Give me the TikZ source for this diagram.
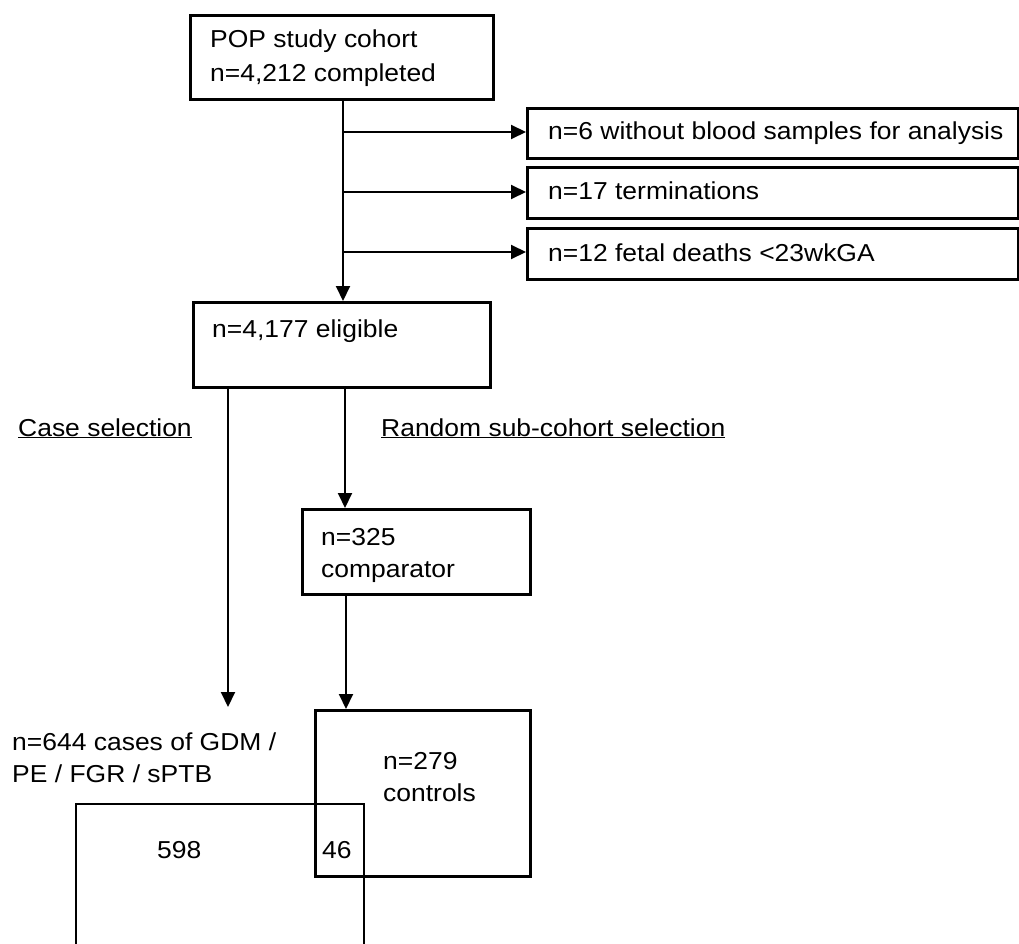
\documentclass[tikz,border=0pt]{standalone}
\usepackage{fontspec}
\setmainfont{Liberation Sans}[FakeStretch=1.08]
\usetikzlibrary{arrows.meta}
\begin{document}
\begin{tikzpicture}[x=1pt,y=-1pt,
  box/.style={draw=black, line width=2.6pt, rectangle, inner sep=0pt, anchor=north west},
  txt/.style={anchor=base west, inner sep=0pt, font=\fontsize{24.5}{32}\selectfont},
  conn/.style={line width=2pt, draw=black},
  arr/.style={conn, -{Triangle[length=15pt,width=14pt]}}]
\useasboundingbox (0,0) rectangle (1019,944);

% top box
\node[box, minimum width=303pt, minimum height=84pt] (top) at (189,14) {};
\node[txt] (toptxt1) at (210,48) {POP study cohort};
\node[txt] (toptxt2) at (210,82) {n=4,212 completed};

% side boxes
\node[box, minimum width=491pt, minimum height=50pt] (ex1) at (526,107) {};
\node[box, minimum width=491pt, minimum height=51pt] (ex2) at (526,166) {};
\node[box, minimum width=491pt, minimum height=51pt] (ex3) at (526,227) {};
\node[txt] (ex1t) at (548,140) {n=6 without blood samples for analysis};
\node[txt] (ex2t) at (548,200) {n=17 terminations};
\node[txt] (ex3t) at (548,261) {n=12 fetal deaths <23wkGA};

% eligible
\node[box, minimum width=297pt, minimum height=85pt] (elig) at (192,301) {};
\node[txt] (eligt) at (212,337) {n=4,177 eligible};

% trunk and branches
\coordinate (t1) at (343,132);
\coordinate (t2) at (343,192);
\coordinate (t3) at (343,252);
\draw[arr] (top.south -| t1) -- (elig.north -| t1);
\draw[arr] (t1) -- (ex1.west |- t1);
\draw[arr] (t2) -- (ex2.west |- t2);
\draw[arr] (t3) -- (ex3.west |- t3);

% section labels
\node[txt] (casesel) at (18,436) {\underline{Case selection}};
\node[txt] (randsel) at (381,436) {\underline{Random sub-cohort selection}};

% comparator
\node[box, minimum width=228pt, minimum height=85pt] (comp) at (301,508) {};
\node[txt] (compt1) at (321,545) {n=325};
\node[txt] (compt2) at (321,577) {comparator};
\coordinate (c1) at (345,0);
\draw[arr] (elig.south -| c1) -- (comp.north -| c1);

% controls
\node[box, minimum width=215pt, minimum height=166pt] (ctrl) at (314,709) {};
\node[txt] (ctrlt1) at (383,769) {n=279};
\node[txt] (ctrlt2) at (383,801) {controls};
\coordinate (c2) at (346,0);
\draw[arr] (comp.south -| c2) -- (ctrl.north -| c2);

% cases
\coordinate (leftend) at (228,707);
\draw[arr] (elig.south -| leftend) -- (leftend);
\node[txt] (caselab1) at (12,750) {n=644 cases of GDM /};
\node[txt] (caselab2) at (12,782) {PE / FGR / sPTB};
\coordinate (cb1) at (76,946);
\coordinate (cb2) at (76,804);
\coordinate (cb3) at (364,804);
\coordinate (cb4) at (364,946);
\draw[line width=2.6pt] (cb1) -- (cb2) -- (cb3) -- (cb4);
\node[txt] (n598) at (157,858) {598};
\node[txt] (n46) at (322,858) {46};
\end{tikzpicture}
\end{document}
